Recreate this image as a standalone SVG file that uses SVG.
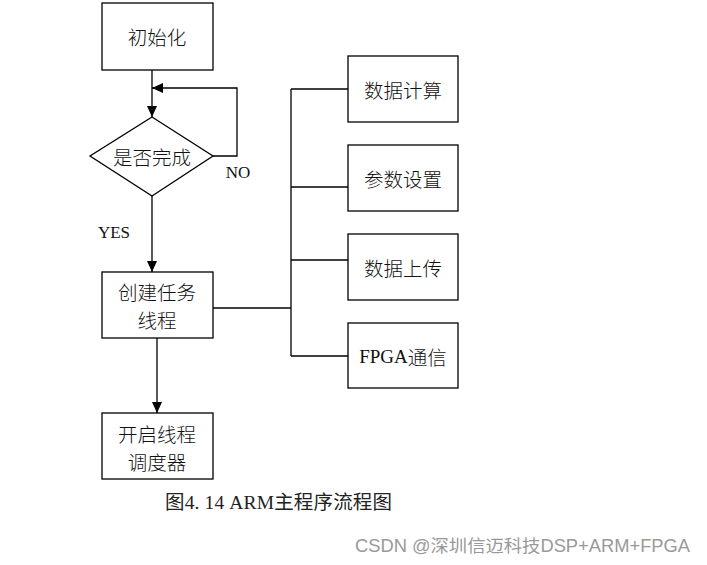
<svg xmlns="http://www.w3.org/2000/svg" width="707" height="565" viewBox="0 0 707 565">
<defs>
<style>
.box{fill:#fff;stroke:#000;stroke-width:1.3}
.ln{fill:none;stroke:#000;stroke-width:1.3}
.t{font-family:"Noto Sans CJK SC","Liberation Serif",serif;font-size:19.5px;font-weight:300;fill:#111;text-anchor:middle;dominant-baseline:central}
.lat{font-family:"Liberation Serif",serif;font-size:17px;fill:#111;text-anchor:middle;dominant-baseline:central}
</style>
<marker id="ah" markerWidth="12" markerHeight="12" refX="11" refY="6" orient="auto" markerUnits="userSpaceOnUse">
<path d="M0,1 L11,6 L0,11 Z" fill="#000"/>
</marker>
</defs>
<rect width="707" height="565" fill="#fff"/>
<g id="connectors">
<line class="ln" x1="152" y1="70" x2="152" y2="117" marker-end="url(#ah)"/>
<polyline class="ln" points="213,156 237,156 237,88 152,88" marker-end="url(#ah)"/>
<line class="ln" x1="152" y1="196" x2="152" y2="272" marker-end="url(#ah)"/>
<line class="ln" x1="157" y1="338" x2="157" y2="413" marker-end="url(#ah)"/>
<line class="ln" x1="213" y1="308" x2="291" y2="308"/>
<line class="ln" x1="291" y1="89" x2="291" y2="356"/>
<line class="ln" x1="291" y1="89" x2="348" y2="89"/>
<line class="ln" x1="291" y1="187" x2="348" y2="187"/>
<line class="ln" x1="291" y1="260" x2="348" y2="260"/>
<line class="ln" x1="291" y1="356" x2="348" y2="356"/>
<text class="lat" x="238" y="172">NO</text>
<text class="lat" x="114" y="232">YES</text>
</g>
<g id="init">
<rect class="box" x="102" y="3" width="111" height="67"/>
<text class="t" x="157" y="36">初始化</text>
</g>
<g id="check">
<polygon class="box" points="152,117 213,156 152,196 90,156"/>
<text class="t" x="152" y="156">是否完成</text>
</g>
<g id="create">
<rect class="box" x="102" y="272" width="111" height="66"/>
<text class="t" x="157" y="291" font-size="19">创建任务</text>
<text class="t" x="157" y="319" font-size="19">线程</text>
</g>
<g id="sched">
<rect class="box" x="102" y="413" width="111" height="66"/>
<text class="t" x="157" y="433" font-size="19">开启线程</text>
<text class="t" x="157" y="461" font-size="19">调度器</text>
</g>
<g id="calc">
<rect class="box" x="348" y="56" width="110" height="66"/>
<text class="t" x="403" y="89">数据计算</text>
</g>
<g id="param">
<rect class="box" x="348" y="145" width="110" height="66"/>
<text class="t" x="403" y="178">参数设置</text>
</g>
<g id="upload">
<rect class="box" x="348" y="234" width="110" height="66"/>
<text class="t" x="403" y="267">数据上传</text>
</g>
<g id="fpga">
<rect class="box" x="348" y="323" width="110" height="65"/>
<text class="t" x="403" y="356"><tspan font-family="Liberation Serif" font-size="19" font-weight="400">FPGA</tspan>通信</text>
</g>
<text x="165" y="502" font-family="Liberation Serif, Noto Sans CJK SC, serif" font-size="19.5" fill="#222" dominant-baseline="central" textLength="227" lengthAdjust="spacing">图4. 14 ARM主程序流程图</text>
<text x="355" y="546" font-family="Liberation Sans, Noto Sans CJK SC, sans-serif" font-size="17.5" fill="#999" dominant-baseline="central" textLength="335" lengthAdjust="spacingAndGlyphs">CSDN @深圳信迈科技DSP+ARM+FPGA</text>
</svg>
